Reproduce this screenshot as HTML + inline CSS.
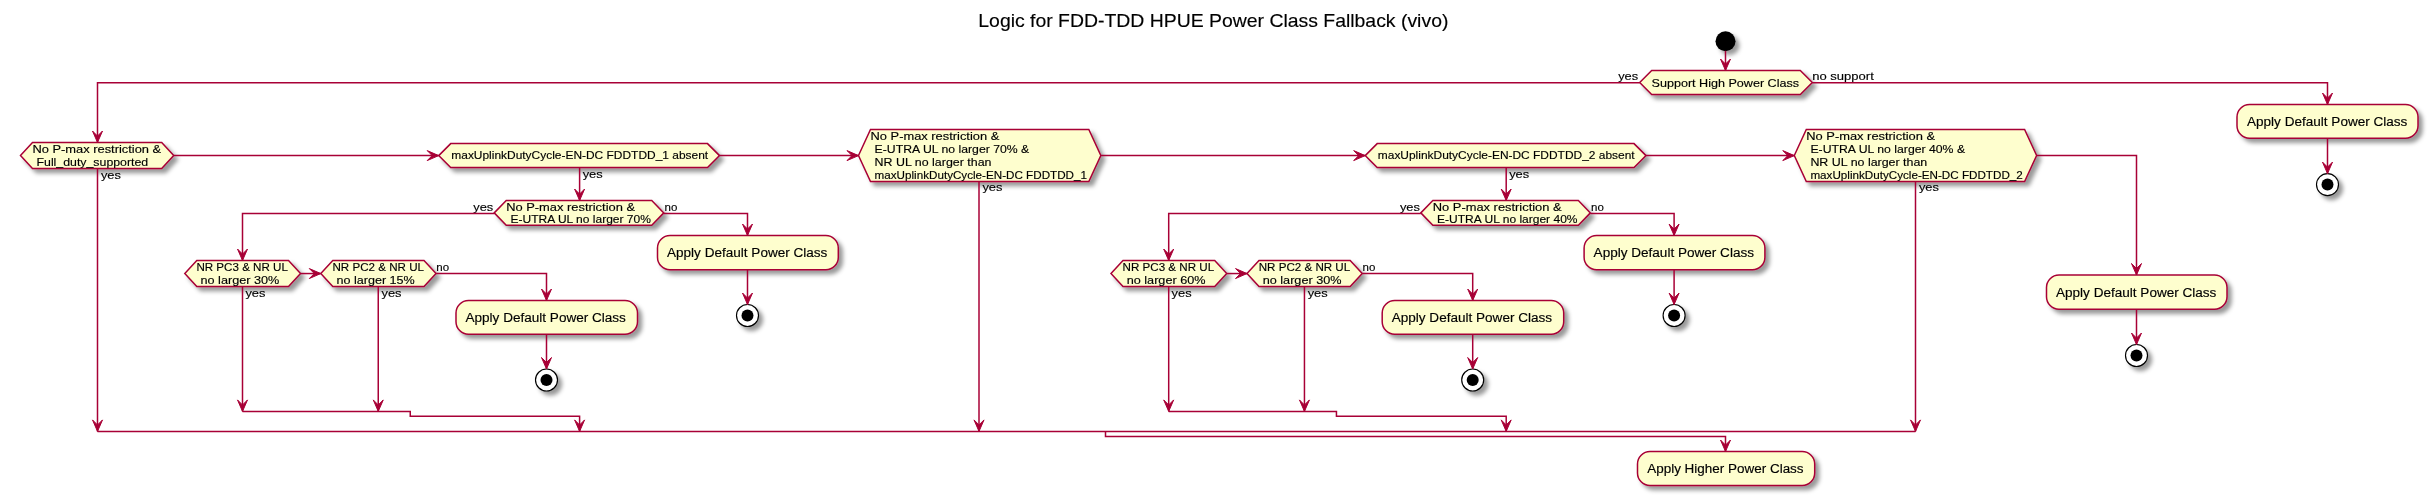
<!DOCTYPE html>
<html><head><meta charset="utf-8"><style>
html,body{margin:0;padding:0;background:#fff;}
body{width:2428px;height:495px;overflow:hidden;}
svg{display:block;will-change:transform;}
text{font-family:"Liberation Sans",sans-serif;fill:#000;stroke:#000;stroke-width:0.15px;}
</style></head><body>
<svg width="2428" height="495" viewBox="0 0 2428 495">
<defs><filter id="f1" x="-1" y="-1" width="300%" height="300%"><feGaussianBlur result="blurOut" stdDeviation="2.0"/><feColorMatrix in="blurOut" result="blurOut2" type="matrix" values="0 0 0 0 0 0 0 0 0 0 0 0 0 0 0 0 0 0 .4 0"/><feOffset dx="4.0" dy="4.0" in="blurOut2" result="blurOut3"/><feBlend in="SourceGraphic" in2="blurOut3" mode="normal"/></filter></defs>
<text x="978.30" y="26.80" font-size="18.6" textLength="470.10" lengthAdjust="spacingAndGlyphs">Logic for FDD-TDD HPUE Power Class Fallback (vivo)</text>
<circle cx="1725.50" cy="41.20" r="10" fill="#000" filter="url(#f1)"/>
<polygon points="1639.70,82.55 1651.70,70.50 1800.30,70.50 1812.30,82.55 1800.30,94.60 1651.70,94.60" fill="#FEFECE" filter="url(#f1)" stroke="#A80036" stroke-width="1.5"/>
<text x="1651.50" y="86.80" font-size="11.5" textLength="147.60" lengthAdjust="spacingAndGlyphs">Support High Power Class</text>
<text x="1618.20" y="79.80" font-size="11.5" textLength="20.00" lengthAdjust="spacingAndGlyphs">yes</text>
<text x="1812.20" y="79.80" font-size="11.5" textLength="61.60" lengthAdjust="spacingAndGlyphs">no support</text>
<rect x="2237.00" y="104.50" width="181.00" height="33.70" rx="12.5" ry="12.5" fill="#FEFECE" filter="url(#f1)" stroke="#A80036" stroke-width="1.5"/>
<text x="2247.00" y="125.90" font-size="12.5" textLength="160.40" lengthAdjust="spacingAndGlyphs">Apply Default Power Class</text>
<circle cx="2327.50" cy="184.60" r="11" fill="#fff" filter="url(#f1)" stroke="#000" stroke-width="1.15"/>
<circle cx="2327.50" cy="184.60" r="6" fill="#000"/>
<polygon points="20.50,155.55 32.50,142.50 161.70,142.50 173.70,155.55 161.70,168.60 32.50,168.60" fill="#FEFECE" filter="url(#f1)" stroke="#A80036" stroke-width="1.5"/>
<text x="32.40" y="152.90" font-size="11.5" textLength="128.80" lengthAdjust="spacingAndGlyphs">No P-max restriction &amp;</text>
<text x="36.50" y="165.70" font-size="11.5" textLength="111.70" lengthAdjust="spacingAndGlyphs">Full_duty_supported</text>
<text x="100.90" y="179.40" font-size="11.5" textLength="20.00" lengthAdjust="spacingAndGlyphs">yes</text>
<polygon points="438.70,155.60 450.70,143.60 707.50,143.60 719.50,155.60 707.50,167.60 450.70,167.60" fill="#FEFECE" filter="url(#f1)" stroke="#A80036" stroke-width="1.5"/>
<text x="451.30" y="159.20" font-size="11.5" textLength="256.80" lengthAdjust="spacingAndGlyphs">maxUplinkDutyCycle-EN-DC FDDTDD_1 absent</text>
<text x="582.70" y="177.90" font-size="11.5" textLength="20.00" lengthAdjust="spacingAndGlyphs">yes</text>
<polygon points="1365.20,155.60 1377.20,143.60 1634.00,143.60 1646.00,155.60 1634.00,167.60 1377.20,167.60" fill="#FEFECE" filter="url(#f1)" stroke="#A80036" stroke-width="1.5"/>
<text x="1377.80" y="159.20" font-size="11.5" textLength="256.80" lengthAdjust="spacingAndGlyphs">maxUplinkDutyCycle-EN-DC FDDTDD_2 absent</text>
<text x="1509.20" y="177.90" font-size="11.5" textLength="20.00" lengthAdjust="spacingAndGlyphs">yes</text>
<polygon points="858.50,155.50 870.50,129.50 1088.80,129.50 1100.80,155.50 1088.80,181.50 870.50,181.50" fill="#FEFECE" filter="url(#f1)" stroke="#A80036" stroke-width="1.5"/>
<text x="870.50" y="139.80" font-size="11.5" textLength="128.80" lengthAdjust="spacingAndGlyphs">No P-max restriction &amp;</text>
<text x="874.60" y="152.60" font-size="11.5" textLength="154.70" lengthAdjust="spacingAndGlyphs">E-UTRA UL no larger 70% &amp;</text>
<text x="874.60" y="165.50" font-size="11.5" textLength="116.90" lengthAdjust="spacingAndGlyphs">NR UL no larger than</text>
<text x="874.60" y="178.50" font-size="11.5" textLength="212.40" lengthAdjust="spacingAndGlyphs">maxUplinkDutyCycle-EN-DC FDDTDD_1</text>
<text x="982.40" y="190.60" font-size="11.5" textLength="20.00" lengthAdjust="spacingAndGlyphs">yes</text>
<polygon points="1794.30,155.50 1806.30,129.50 2024.60,129.50 2036.60,155.50 2024.60,181.50 1806.30,181.50" fill="#FEFECE" filter="url(#f1)" stroke="#A80036" stroke-width="1.5"/>
<text x="1806.30" y="139.80" font-size="11.5" textLength="128.80" lengthAdjust="spacingAndGlyphs">No P-max restriction &amp;</text>
<text x="1810.40" y="152.60" font-size="11.5" textLength="154.70" lengthAdjust="spacingAndGlyphs">E-UTRA UL no larger 40% &amp;</text>
<text x="1810.40" y="165.50" font-size="11.5" textLength="116.90" lengthAdjust="spacingAndGlyphs">NR UL no larger than</text>
<text x="1810.40" y="178.50" font-size="11.5" textLength="212.40" lengthAdjust="spacingAndGlyphs">maxUplinkDutyCycle-EN-DC FDDTDD_2</text>
<text x="1918.90" y="190.60" font-size="11.5" textLength="20.00" lengthAdjust="spacingAndGlyphs">yes</text>
<polygon points="494.25,212.88 506.25,200.50 651.75,200.50 663.75,212.88 651.75,225.25 506.25,225.25" fill="#FEFECE" filter="url(#f1)" stroke="#A80036" stroke-width="1.5"/>
<text x="506.20" y="210.70" font-size="11.5" textLength="128.80" lengthAdjust="spacingAndGlyphs">No P-max restriction &amp;</text>
<text x="510.50" y="222.70" font-size="11.5" textLength="140.40" lengthAdjust="spacingAndGlyphs">E-UTRA UL no larger 70%</text>
<text x="473.30" y="210.70" font-size="11.5" textLength="20.00" lengthAdjust="spacingAndGlyphs">yes</text>
<text x="664.50" y="210.70" font-size="11.5" textLength="12.80" lengthAdjust="spacingAndGlyphs">no</text>
<rect x="657.50" y="235.50" width="180.80" height="34.20" rx="12.5" ry="12.5" fill="#FEFECE" filter="url(#f1)" stroke="#A80036" stroke-width="1.5"/>
<text x="667.00" y="256.90" font-size="12.5" textLength="160.40" lengthAdjust="spacingAndGlyphs">Apply Default Power Class</text>
<circle cx="747.50" cy="315.50" r="11" fill="#fff" filter="url(#f1)" stroke="#000" stroke-width="1.15"/>
<circle cx="747.50" cy="315.50" r="6" fill="#000"/>
<polygon points="184.80,273.55 196.80,260.50 288.50,260.50 300.50,273.55 288.50,286.60 196.80,286.60" fill="#FEFECE" filter="url(#f1)" stroke="#A80036" stroke-width="1.5"/>
<text x="196.40" y="271.00" font-size="11.5" textLength="91.50" lengthAdjust="spacingAndGlyphs">NR PC3 &amp; NR UL</text>
<text x="200.50" y="283.70" font-size="11.5" textLength="78.80" lengthAdjust="spacingAndGlyphs">no larger 30%</text>
<text x="245.40" y="297.00" font-size="11.5" textLength="20.00" lengthAdjust="spacingAndGlyphs">yes</text>
<polygon points="320.80,273.55 332.80,260.50 424.00,260.50 436.00,273.55 424.00,286.60 332.80,286.60" fill="#FEFECE" filter="url(#f1)" stroke="#A80036" stroke-width="1.5"/>
<text x="332.50" y="271.00" font-size="11.5" textLength="91.50" lengthAdjust="spacingAndGlyphs">NR PC2 &amp; NR UL</text>
<text x="336.50" y="283.70" font-size="11.5" textLength="78.30" lengthAdjust="spacingAndGlyphs">no larger 15%</text>
<text x="381.50" y="297.00" font-size="11.5" textLength="20.00" lengthAdjust="spacingAndGlyphs">yes</text>
<text x="436.30" y="271.00" font-size="11.5" textLength="12.80" lengthAdjust="spacingAndGlyphs">no</text>
<rect x="456.00" y="300.50" width="181.50" height="33.70" rx="12.5" ry="12.5" fill="#FEFECE" filter="url(#f1)" stroke="#A80036" stroke-width="1.5"/>
<text x="465.50" y="322.20" font-size="12.5" textLength="160.40" lengthAdjust="spacingAndGlyphs">Apply Default Power Class</text>
<circle cx="546.50" cy="380.00" r="11" fill="#fff" filter="url(#f1)" stroke="#000" stroke-width="1.15"/>
<circle cx="546.50" cy="380.00" r="6" fill="#000"/>
<polygon points="1420.85,212.88 1432.85,200.50 1578.35,200.50 1590.35,212.88 1578.35,225.25 1432.85,225.25" fill="#FEFECE" filter="url(#f1)" stroke="#A80036" stroke-width="1.5"/>
<text x="1432.80" y="210.70" font-size="11.5" textLength="128.80" lengthAdjust="spacingAndGlyphs">No P-max restriction &amp;</text>
<text x="1437.10" y="222.70" font-size="11.5" textLength="140.40" lengthAdjust="spacingAndGlyphs">E-UTRA UL no larger 40%</text>
<text x="1399.90" y="210.70" font-size="11.5" textLength="20.00" lengthAdjust="spacingAndGlyphs">yes</text>
<text x="1591.10" y="210.70" font-size="11.5" textLength="12.80" lengthAdjust="spacingAndGlyphs">no</text>
<rect x="1584.10" y="235.50" width="180.80" height="34.20" rx="12.5" ry="12.5" fill="#FEFECE" filter="url(#f1)" stroke="#A80036" stroke-width="1.5"/>
<text x="1593.60" y="256.90" font-size="12.5" textLength="160.40" lengthAdjust="spacingAndGlyphs">Apply Default Power Class</text>
<circle cx="1674.10" cy="315.50" r="11" fill="#fff" filter="url(#f1)" stroke="#000" stroke-width="1.15"/>
<circle cx="1674.10" cy="315.50" r="6" fill="#000"/>
<polygon points="1111.00,273.55 1123.00,260.50 1214.70,260.50 1226.70,273.55 1214.70,286.60 1123.00,286.60" fill="#FEFECE" filter="url(#f1)" stroke="#A80036" stroke-width="1.5"/>
<text x="1122.60" y="271.00" font-size="11.5" textLength="91.50" lengthAdjust="spacingAndGlyphs">NR PC3 &amp; NR UL</text>
<text x="1126.70" y="283.70" font-size="11.5" textLength="78.80" lengthAdjust="spacingAndGlyphs">no larger 60%</text>
<text x="1171.60" y="297.00" font-size="11.5" textLength="20.00" lengthAdjust="spacingAndGlyphs">yes</text>
<polygon points="1247.00,273.55 1259.00,260.50 1350.20,260.50 1362.20,273.55 1350.20,286.60 1259.00,286.60" fill="#FEFECE" filter="url(#f1)" stroke="#A80036" stroke-width="1.5"/>
<text x="1258.70" y="271.00" font-size="11.5" textLength="91.50" lengthAdjust="spacingAndGlyphs">NR PC2 &amp; NR UL</text>
<text x="1262.70" y="283.70" font-size="11.5" textLength="78.80" lengthAdjust="spacingAndGlyphs">no larger 30%</text>
<text x="1307.70" y="297.00" font-size="11.5" textLength="20.00" lengthAdjust="spacingAndGlyphs">yes</text>
<text x="1362.50" y="271.00" font-size="11.5" textLength="12.80" lengthAdjust="spacingAndGlyphs">no</text>
<rect x="1382.20" y="300.50" width="181.50" height="33.70" rx="12.5" ry="12.5" fill="#FEFECE" filter="url(#f1)" stroke="#A80036" stroke-width="1.5"/>
<text x="1391.70" y="322.20" font-size="12.5" textLength="160.40" lengthAdjust="spacingAndGlyphs">Apply Default Power Class</text>
<circle cx="1472.70" cy="380.00" r="11" fill="#fff" filter="url(#f1)" stroke="#000" stroke-width="1.15"/>
<circle cx="1472.70" cy="380.00" r="6" fill="#000"/>
<rect x="2046.50" y="275.00" width="180.50" height="34.25" rx="12.5" ry="12.5" fill="#FEFECE" filter="url(#f1)" stroke="#A80036" stroke-width="1.5"/>
<text x="2056.00" y="296.90" font-size="12.5" textLength="160.40" lengthAdjust="spacingAndGlyphs">Apply Default Power Class</text>
<circle cx="2136.50" cy="355.50" r="11" fill="#fff" filter="url(#f1)" stroke="#000" stroke-width="1.15"/>
<circle cx="2136.50" cy="355.50" r="6" fill="#000"/>
<rect x="1637.50" y="451.50" width="177.20" height="34.00" rx="12.5" ry="12.5" fill="#FEFECE" filter="url(#f1)" stroke="#A80036" stroke-width="1.5"/>
<text x="1647.20" y="473.10" font-size="12.5" textLength="156.40" lengthAdjust="spacingAndGlyphs">Apply Higher Power Class</text>
<polyline points="1725.50,50.80 1725.50,70.50" fill="none" stroke="#A80036" stroke-width="1.5"/>
<polygon points="1720.50,59.00 1725.50,70.50 1730.50,59.00 1725.50,64.00" fill="#A80036" stroke="#A80036" stroke-width="1"/>
<polyline points="1639.70,82.70 97.50,82.70 97.50,142.50" fill="none" stroke="#A80036" stroke-width="1.5"/>
<polygon points="92.50,131.00 97.50,142.50 102.50,131.00 97.50,136.00" fill="#A80036" stroke="#A80036" stroke-width="1"/>
<polyline points="1812.30,82.70 2327.50,82.70 2327.50,104.50" fill="none" stroke="#A80036" stroke-width="1.5"/>
<polygon points="2322.50,93.00 2327.50,104.50 2332.50,93.00 2327.50,98.00" fill="#A80036" stroke="#A80036" stroke-width="1"/>
<polyline points="2327.50,138.20 2327.50,173.60" fill="none" stroke="#A80036" stroke-width="1.5"/>
<polygon points="2322.50,162.10 2327.50,173.60 2332.50,162.10 2327.50,167.10" fill="#A80036" stroke="#A80036" stroke-width="1"/>
<polyline points="173.70,155.60 438.70,155.60" fill="none" stroke="#A80036" stroke-width="1.5"/>
<polygon points="427.20,150.60 438.70,155.60 427.20,160.60 432.20,155.60" fill="#A80036" stroke="#A80036" stroke-width="1"/>
<polyline points="719.50,155.60 858.50,155.60" fill="none" stroke="#A80036" stroke-width="1.5"/>
<polygon points="847.00,150.60 858.50,155.60 847.00,160.60 852.00,155.60" fill="#A80036" stroke="#A80036" stroke-width="1"/>
<polyline points="1100.80,155.60 1365.20,155.60" fill="none" stroke="#A80036" stroke-width="1.5"/>
<polygon points="1353.70,150.60 1365.20,155.60 1353.70,160.60 1358.70,155.60" fill="#A80036" stroke="#A80036" stroke-width="1"/>
<polyline points="1646.00,155.60 1794.30,155.60" fill="none" stroke="#A80036" stroke-width="1.5"/>
<polygon points="1782.80,150.60 1794.30,155.60 1782.80,160.60 1787.80,155.60" fill="#A80036" stroke="#A80036" stroke-width="1"/>
<polyline points="2036.60,155.60 2136.50,155.60 2136.50,275.00" fill="none" stroke="#A80036" stroke-width="1.5"/>
<polygon points="2131.50,263.50 2136.50,275.00 2141.50,263.50 2136.50,268.50" fill="#A80036" stroke="#A80036" stroke-width="1"/>
<polyline points="2136.50,309.25 2136.50,344.50" fill="none" stroke="#A80036" stroke-width="1.5"/>
<polygon points="2131.50,333.00 2136.50,344.50 2141.50,333.00 2136.50,338.00" fill="#A80036" stroke="#A80036" stroke-width="1"/>
<polyline points="97.50,168.60 97.50,431.40" fill="none" stroke="#A80036" stroke-width="1.5"/>
<polygon points="92.50,419.90 97.50,431.40 102.50,419.90 97.50,424.90" fill="#A80036" stroke="#A80036" stroke-width="1"/>
<polyline points="979.00,181.50 979.00,431.40" fill="none" stroke="#A80036" stroke-width="1.5"/>
<polygon points="974.00,419.90 979.00,431.40 984.00,419.90 979.00,424.90" fill="#A80036" stroke="#A80036" stroke-width="1"/>
<polyline points="1915.50,181.50 1915.50,431.40" fill="none" stroke="#A80036" stroke-width="1.5"/>
<polygon points="1910.50,419.90 1915.50,431.40 1920.50,419.90 1915.50,424.90" fill="#A80036" stroke="#A80036" stroke-width="1"/>
<polyline points="97.50,431.40 1915.50,431.40" fill="none" stroke="#A80036" stroke-width="1.5"/>
<polyline points="1105.50,431.40 1105.50,436.60 1725.50,436.60 1725.50,451.50" fill="none" stroke="#A80036" stroke-width="1.5"/>
<polygon points="1720.50,440.00 1725.50,451.50 1730.50,440.00 1725.50,445.00" fill="#A80036" stroke="#A80036" stroke-width="1"/>
<polyline points="579.60,167.60 579.60,200.50" fill="none" stroke="#A80036" stroke-width="1.5"/>
<polygon points="574.60,189.00 579.60,200.50 584.60,189.00 579.60,194.00" fill="#A80036" stroke="#A80036" stroke-width="1"/>
<polyline points="494.25,213.40 242.50,213.40 242.50,260.50" fill="none" stroke="#A80036" stroke-width="1.5"/>
<polygon points="237.50,249.00 242.50,260.50 247.50,249.00 242.50,254.00" fill="#A80036" stroke="#A80036" stroke-width="1"/>
<polyline points="663.75,213.40 747.50,213.40 747.50,235.50" fill="none" stroke="#A80036" stroke-width="1.5"/>
<polygon points="742.50,224.00 747.50,235.50 752.50,224.00 747.50,229.00" fill="#A80036" stroke="#A80036" stroke-width="1"/>
<polyline points="747.50,269.70 747.50,304.50" fill="none" stroke="#A80036" stroke-width="1.5"/>
<polygon points="742.50,293.00 747.50,304.50 752.50,293.00 747.50,298.00" fill="#A80036" stroke="#A80036" stroke-width="1"/>
<polyline points="300.50,273.55 320.80,273.55" fill="none" stroke="#A80036" stroke-width="1.5"/>
<polygon points="309.30,268.55 320.80,273.55 309.30,278.55 314.30,273.55" fill="#A80036" stroke="#A80036" stroke-width="1"/>
<polyline points="436.00,273.55 546.50,273.55 546.50,300.50" fill="none" stroke="#A80036" stroke-width="1.5"/>
<polygon points="541.50,289.00 546.50,300.50 551.50,289.00 546.50,294.00" fill="#A80036" stroke="#A80036" stroke-width="1"/>
<polyline points="546.50,334.20 546.50,369.00" fill="none" stroke="#A80036" stroke-width="1.5"/>
<polygon points="541.50,357.50 546.50,369.00 551.50,357.50 546.50,362.50" fill="#A80036" stroke="#A80036" stroke-width="1"/>
<polyline points="242.50,286.60 242.50,411.40" fill="none" stroke="#A80036" stroke-width="1.5"/>
<polygon points="237.50,399.90 242.50,411.40 247.50,399.90 242.50,404.90" fill="#A80036" stroke="#A80036" stroke-width="1"/>
<polyline points="378.25,286.60 378.25,411.40" fill="none" stroke="#A80036" stroke-width="1.5"/>
<polygon points="373.25,399.90 378.25,411.40 383.25,399.90 378.25,404.90" fill="#A80036" stroke="#A80036" stroke-width="1"/>
<polyline points="242.50,411.40 410.25,411.40 410.25,416.25 579.60,416.25 579.60,431.40" fill="none" stroke="#A80036" stroke-width="1.5"/>
<polygon points="574.60,419.90 579.60,431.40 584.60,419.90 579.60,424.90" fill="#A80036" stroke="#A80036" stroke-width="1"/>
<polyline points="1506.20,167.60 1506.20,200.50" fill="none" stroke="#A80036" stroke-width="1.5"/>
<polygon points="1501.20,189.00 1506.20,200.50 1511.20,189.00 1506.20,194.00" fill="#A80036" stroke="#A80036" stroke-width="1"/>
<polyline points="1420.85,213.40 1168.70,213.40 1168.70,260.50" fill="none" stroke="#A80036" stroke-width="1.5"/>
<polygon points="1163.70,249.00 1168.70,260.50 1173.70,249.00 1168.70,254.00" fill="#A80036" stroke="#A80036" stroke-width="1"/>
<polyline points="1590.35,213.40 1674.10,213.40 1674.10,235.50" fill="none" stroke="#A80036" stroke-width="1.5"/>
<polygon points="1669.10,224.00 1674.10,235.50 1679.10,224.00 1674.10,229.00" fill="#A80036" stroke="#A80036" stroke-width="1"/>
<polyline points="1674.10,269.70 1674.10,304.50" fill="none" stroke="#A80036" stroke-width="1.5"/>
<polygon points="1669.10,293.00 1674.10,304.50 1679.10,293.00 1674.10,298.00" fill="#A80036" stroke="#A80036" stroke-width="1"/>
<polyline points="1226.70,273.55 1247.00,273.55" fill="none" stroke="#A80036" stroke-width="1.5"/>
<polygon points="1235.50,268.55 1247.00,273.55 1235.50,278.55 1240.50,273.55" fill="#A80036" stroke="#A80036" stroke-width="1"/>
<polyline points="1362.20,273.55 1472.70,273.55 1472.70,300.50" fill="none" stroke="#A80036" stroke-width="1.5"/>
<polygon points="1467.70,289.00 1472.70,300.50 1477.70,289.00 1472.70,294.00" fill="#A80036" stroke="#A80036" stroke-width="1"/>
<polyline points="1472.70,334.20 1472.70,369.00" fill="none" stroke="#A80036" stroke-width="1.5"/>
<polygon points="1467.70,357.50 1472.70,369.00 1477.70,357.50 1472.70,362.50" fill="#A80036" stroke="#A80036" stroke-width="1"/>
<polyline points="1168.70,286.60 1168.70,411.40" fill="none" stroke="#A80036" stroke-width="1.5"/>
<polygon points="1163.70,399.90 1168.70,411.40 1173.70,399.90 1168.70,404.90" fill="#A80036" stroke="#A80036" stroke-width="1"/>
<polyline points="1304.45,286.60 1304.45,411.40" fill="none" stroke="#A80036" stroke-width="1.5"/>
<polygon points="1299.45,399.90 1304.45,411.40 1309.45,399.90 1304.45,404.90" fill="#A80036" stroke="#A80036" stroke-width="1"/>
<polyline points="1168.70,411.40 1336.45,411.40 1336.45,416.25 1506.20,416.25 1506.20,431.40" fill="none" stroke="#A80036" stroke-width="1.5"/>
<polygon points="1501.20,419.90 1506.20,431.40 1511.20,419.90 1506.20,424.90" fill="#A80036" stroke="#A80036" stroke-width="1"/>
</svg>
</body></html>
